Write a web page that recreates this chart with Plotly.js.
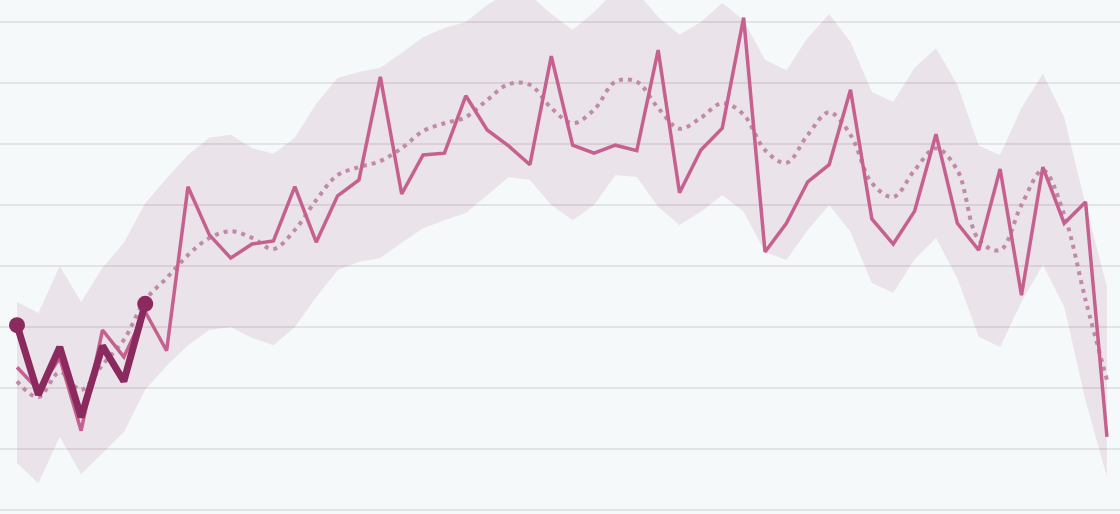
<!DOCTYPE html>
<html>
<head>
<meta charset="utf-8">
<script src="https://cdn.plot.ly/plotly-3.0.1.min.js"></script>
<style>html,body{margin:0;padding:0;background:#f5f9fa;}#chart{width:1120px;height:514px;}</style>
</head>
<body>
<div id="chart"></div>
<script>
// Index of each observation (52 periods)
const periods = Array.from({length: 52}, (_, i) => i);

// Observed series (solid line)
const observed = [23.4,19.7,24.9,13.0,29.5,25.1,32.5,26.1,53.0,45.1,41.3,43.6,44.1,53.0,43.9,51.5,54.1,71.0,51.8,58.2,
  58.5,67.9,62.3,59.7,56.6,74.4,59.8,58.5,59.8,58.9,75.4,52.0,59.0,62.6,80.7,42.3,47.0,53.8,56.6,68.9,
  47.7,43.6,49.0,61.6,47.0,42.6,55.9,35.2,56.2,47.0,50.5,12.0];

// Highlighted current series (first 7 periods)
const currentPeriods = [0,1,2,3,4,5,6];
const current = [30.3,18.9,26.7,15.2,26.9,21.1,33.8];
// End-point markers of the highlighted series
const endPeriods = [0, 6];
const endValues = [30.3, 33.8];

// Smoothed trend (dotted line)
const trend = [21.1,18.5,22.6,19.7,23.8,27.9,34.4,38.0,41.8,44.6,45.7,44.6,42.8,45.9,50.8,54.9,56.2,57.2,59.3,62.1,
  63.4,64.4,67.2,69.8,69.7,65.9,63.4,65.6,70.2,70.2,65.9,62.5,64.3,66.7,64.8,59.0,56.9,61.5,65.2,61.5,
  53.6,51.3,55.7,59.3,55.7,44.3,42.6,50.0,55.7,48.4,34.4,21.3];

// Range band
const upper = [34.1,32.3,40.0,34.1,39.7,43.8,50.3,54.4,58.2,61.0,61.5,59.3,58.4,61.0,66.6,70.8,71.8,72.5,74.9,77.5,
  79.0,80.0,82.8,84.9,84.4,81.3,78.7,81.6,85.2,84.9,80.8,77.9,80.0,83.1,80.3,73.8,72.1,77.4,81.3,76.7,
  68.5,66.9,72.5,75.7,69.7,59.7,58.2,65.9,71.5,64.4,50.0,36.6];
const lower = [7.7,4.4,12.0,5.9,9.3,12.8,19.7,23.6,27.0,29.5,30.0,28.2,27.0,30.0,34.9,39.3,40.7,41.3,43.8,46.2,
  47.5,48.7,51.6,54.6,54.1,50.0,47.5,50.0,54.9,54.6,49.7,46.7,48.9,51.6,48.9,42.3,41.0,45.9,50.0,45.6,
  37.2,35.6,41.1,44.6,38.0,28.4,26.7,34.1,40.2,33.3,17.9,5.4];

const traces = [
  {x: periods, y: lower, type: 'scatter', mode: 'lines', line: {width: 0, color: 'rgba(0,0,0,0)'}, hoverinfo: 'skip', showlegend: false},
  {x: periods, y: upper, type: 'scatter', mode: 'lines', fill: 'tonexty', fillcolor: 'rgba(139,42,94,0.10)', line: {width: 0, color: 'rgba(0,0,0,0)'}, hoverinfo: 'skip', showlegend: false},
  {x: periods, y: trend, type: 'scatter', mode: 'lines', line: {color: '#c08aa8', width: 4, dash: '4px,5px', shape: 'spline', smoothing: 1}, showlegend: false},
  {x: periods, y: observed, type: 'scatter', mode: 'lines', line: {color: '#c6618f', width: 3.5}, showlegend: false},
  {x: currentPeriods, y: current, type: 'scatter', mode: 'lines', line: {color: '#8b2a5e', width: 7}, showlegend: false},
  {x: endPeriods, y: endValues, type: 'scatter', mode: 'markers', marker: {size: 16, color: '#8b2a5e', opacity: 1, line: {width: 0}}, showlegend: false}
];

const layout = {
  width: 1120, height: 514,
  margin: {l: 0, r: 0, t: 0, b: 0, pad: 0},
  paper_bgcolor: '#f5f9fa', plot_bgcolor: '#f5f9fa',
  showlegend: false,
  xaxis: {range: [-0.7955, 51.61], showgrid: false, zeroline: false, showticklabels: false, ticks: '', showline: false, fixedrange: true},
  yaxis: {range: [-0.656, 83.6], dtick: 10, tick0: 0, showgrid: true, gridcolor: '#e4e3e5', gridwidth: 2, zeroline: false, showticklabels: false, ticks: '', showline: false, fixedrange: true}
};

Plotly.newPlot('chart', traces, layout, {displayModeBar: false, staticPlot: true});
</script>
</body>
</html>
